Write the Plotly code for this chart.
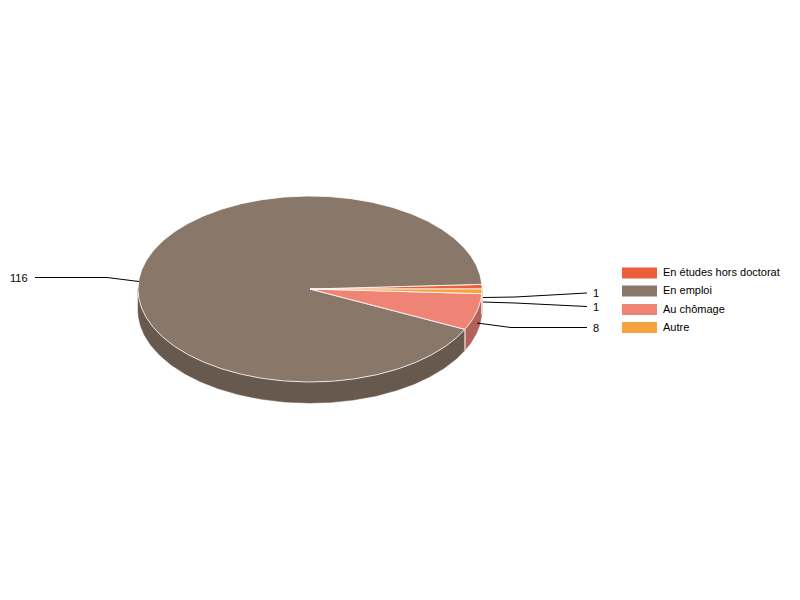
import numpy as np
import plotly.graph_objects as go

categories = ["En études hors doctorat", "En emploi", "Au chômage", "Autre"]
values = [1, 116, 8, 1]
colors = ["#ED5F3B", "#89776A", "#EF8376", "#F6A23F"]
side_colors = ["#B5472C", "#68594F", "#B3625A", "#B87A2F"]
value_labels = ["1", "116", "8", "1"]

# pixel layout of the fake 3d pie, axes below map 1:1 on the 800x600 page
CX, CY = 310, 289
RX, RY = 172, 93
DEPTH = 21
FONT = "Liberation Sans, Arial, sans-serif"

# leader lines: x's and y's, in the same order as the categories
leader_x = [[483, 515, 587], [139, 107, 35], [477, 511, 587], [483, 515, 587]]
leader_y = [[297.5, 297, 293], [281.5, 277.5, 277.5], [323, 327.5, 327.5], [302, 303, 306.5]]
legend_y = [273, 291, 309.5, 327.5]


def arc(a0, a1):
    t = np.radians(np.linspace(a0, a1, max(int(abs(a1 - a0) * 2), 2)))
    return CX + RX * np.cos(t), CY - RY * np.sin(t)


fig = go.Figure()

angles = np.concatenate([[0], np.cumsum(values) / np.sum(values) * 360])

# side wall first, only the front half (180-360 deg) can be seen
for i in range(len(values)):
    a0, a1 = max(angles[i], 180), angles[i + 1]
    if a1 <= a0:
        continue
    x, y = arc(a0, a1)
    fig.add_trace(go.Scatter(
        x=np.concatenate([x, x[::-1], x[:1]]),
        y=np.concatenate([y, y[::-1] + DEPTH, y[:1]]),
        mode="lines", fill="toself", fillcolor=side_colors[i],
        line=dict(color=side_colors[i], width=0.5), hoverinfo="skip",
    ))
    # white edge where two walls meet
    if a0 > 180:
        fig.add_trace(go.Scatter(
            x=[x[0], x[0]], y=[y[0], y[0] + DEPTH], mode="lines",
            line=dict(color="white", width=1), hoverinfo="skip",
        ))

# top face
for i in range(len(values)):
    x, y = arc(angles[i], angles[i + 1])
    fig.add_trace(go.Scatter(
        x=np.concatenate([[CX], x, [CX]]),
        y=np.concatenate([[CY], y, [CY]]),
        mode="lines", fill="toself", fillcolor=colors[i],
        line=dict(color="white", width=0.8), hoverinfo="skip",
    ))

# leader lines and value labels
for i, lab in enumerate(value_labels):
    fig.add_trace(go.Scatter(
        x=leader_x[i], y=leader_y[i], mode="lines",
        line=dict(color="black", width=1), hoverinfo="skip",
    ))
    left = leader_x[i][2] < CX
    fig.add_annotation(
        x=leader_x[i][2] + (-5 if left else 4), y=leader_y[i][2], text=lab,
        showarrow=False, xanchor="right" if left else "left", yanchor="middle",
        font=dict(family=FONT, size=11, color="black"),
    )

# legend by hand, plotly's own can't draw these wide swatches
for i, name in enumerate(categories):
    fig.add_shape(
        type="rect", x0=622, x1=657, y0=legend_y[i] - 5.5, y1=legend_y[i] + 5.5,
        fillcolor=colors[i], line=dict(width=0), layer="above",
    )
    fig.add_annotation(
        x=661, y=legend_y[i] - 1, text=name, showarrow=False,
        xanchor="left", yanchor="middle",
        font=dict(family=FONT, size=11, color="black"),
    )

fig.update_layout(
    width=800, height=600, autosize=False, showlegend=False,
    margin=dict(l=0, r=0, t=0, b=0),
    paper_bgcolor="white", plot_bgcolor="white",
    xaxis=dict(range=[0, 800], visible=False, fixedrange=True),
    yaxis=dict(range=[600, 0], visible=False, fixedrange=True),
)

# page has a default 8px body margin, drop it so pixels line up
fig.write_html("out.html", config=dict(displayModeBar=False),
               post_script="document.body.style.margin='0';")
